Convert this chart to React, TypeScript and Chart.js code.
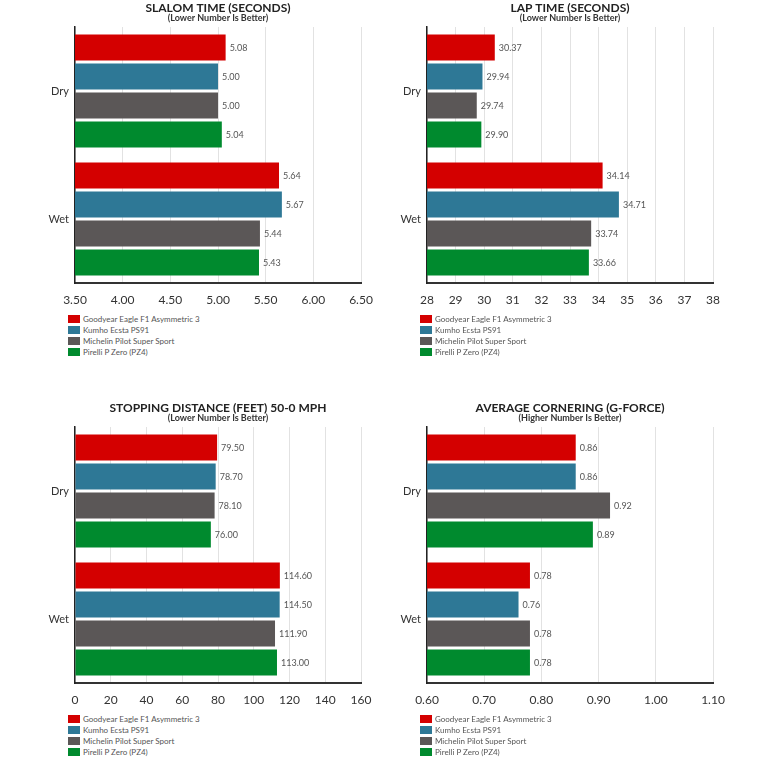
import React, { useEffect, useRef } from 'react';
import { Chart, registerables } from 'chart.js';

Chart.register(...registerables);

const categories = ['Dry', 'Wet'];
const tireNames = [
  'Goodyear Eagle F1 Asymmetric 3',
  'Kumho Ecsta PS91',
  'Michelin Pilot Super Sport',
  'Pirelli P Zero (PZ4)',
];
const tireColors = ['#D40000', '#2E7896', '#5B5757', '#008A2E'];

// values per tire in order: Goodyear, Kumho, Michelin, Pirelli
const slalomDry = [5.08, 5.0, 5.0, 5.04];
const slalomWet = [5.64, 5.67, 5.44, 5.43];
const lapDry = [30.37, 29.94, 29.74, 29.9];
const lapWet = [34.14, 34.71, 33.74, 33.66];
const stopDry = [79.5, 78.7, 78.1, 76.0];
const stopWet = [114.6, 114.5, 111.9, 113.0];
const cornerDry = [0.86, 0.86, 0.92, 0.89];
const cornerWet = [0.78, 0.76, 0.78, 0.78];

// axis ranges: [min, max, step, decimals]
const slalomAxis = [3.5, 6.5, 0.5, 2];
const lapAxis = [28, 38, 1, 0];
const stopAxis = [0, 160, 20, 0];
const cornerAxis = [0.6, 1.1, 0.1, 2];

const FONT = 'Lato, "Open Sans", sans-serif';

const valueLabels = {
  id: 'valueLabels',
  afterDatasetsDraw(chart: any) {
    const ctx = chart.ctx;
    ctx.save();
    ctx.font = `9px ${FONT}`;
    ctx.fillStyle = '#555';
    ctx.textBaseline = 'middle';
    ctx.textAlign = 'left';
    chart.data.datasets.forEach((ds: any, i: number) => {
      const meta = chart.getDatasetMeta(i);
      meta.data.forEach((bar: any, j: number) => {
        const v = ds.data[j];
        ctx.fillText(Number(v).toFixed(2), bar.x + 4, bar.y + 0.5);
      });
    });
    ctx.restore();
  },
};

type PanelProps = {
  left: number;
  top: number;
  title: string;
  subtitle: string;
  dry: number[];
  wet: number[];
  axis: number[];
};

function Panel({ left, top, title, subtitle, dry, wet, axis }: PanelProps) {
  const ref = useRef<HTMLCanvasElement | null>(null);
  useEffect(() => {
    if (!ref.current) return;
    const [min, max, step, dec] = axis;
    const chart = new Chart(ref.current, {
      type: 'bar',
      data: {
        labels: categories,
        datasets: tireNames.map((name, i) => ({
          label: name,
          data: [dry[i], wet[i]],
          backgroundColor: tireColors[i],
          borderWidth: 0,
          categoryPercentage: 0.906,
          barPercentage: 0.9,
        })),
      },
      options: {
        indexAxis: 'y',
        animation: false,
        responsive: false,
        devicePixelRatio: 1,
        layout: { padding: { left: 0, right: 24, top: 0, bottom: 0 } },
        plugins: {
          legend: { display: false },
          tooltip: { enabled: false },
          title: {
            display: true,
            text: title,
            fullSize: false,
            color: '#222',
            font: { family: FONT, size: 12, weight: 'bold', lineHeight: 1.0 },
            padding: { top: 2, bottom: 0 },
          },
          subtitle: {
            display: true,
            text: subtitle,
            fullSize: false,
            color: '#333',
            font: { family: FONT, size: 9, weight: 'bold', lineHeight: 1.0 },
            padding: { top: 0, bottom: 4 },
          },
        },
        scales: {
          x: {
            min,
            max,
            ticks: {
              stepSize: step,
              callback: (v: any) => Number(v).toFixed(dec),
              color: '#333',
              font: { family: FONT, size: 12 },
              padding: 10,
            },
            grid: { color: '#e2e2e2', drawTicks: false, lineWidth: 1 },
            border: { display: true, color: '#333', width: 2 },
            afterFit: (s: any) => {
              s.height = 27;
            },
          },
          y: {
            ticks: { color: '#333', font: { family: FONT, size: 11 }, padding: 6 },
            grid: { display: false, drawTicks: false },
            border: { display: true, color: '#222', width: 1.5 },
            afterFit: (s: any) => {
              s.width = 75;
            },
          },
        },
      } as any,
      plugins: [valueLabels],
    });
    return () => chart.destroy();
  }, []);

  return (
    <div style={{ position: 'absolute', left, top, width: 385, height: 360 }}>
      <canvas ref={ref} width={385} height={310} style={{ position: 'absolute', left: 0, top: 0 }} />
      <div style={{ position: 'absolute', left: 68, top: 313, fontFamily: FONT, fontSize: 8, color: '#555' }}>
        {tireNames.map((n, i) => (
          <div key={n} style={{ display: 'flex', alignItems: 'center', height: 11, whiteSpace: 'nowrap' }}>
            <span style={{ display: 'inline-block', width: 12, height: 8, background: tireColors[i], marginRight: 3 }} />
            <span>{n}</span>
          </div>
        ))}
      </div>
    </div>
  );
}

export default function App() {
  return (
    <div style={{ position: 'absolute', left: 0, top: 0, width: 777, height: 768, background: '#fff', overflow: 'hidden' }}>
      <Panel left={0} top={0} title="SLALOM TIME (SECONDS)" subtitle="(Lower Number Is Better)" dry={slalomDry} wet={slalomWet} axis={slalomAxis} />
      <Panel left={352} top={0} title="LAP TIME (SECONDS)" subtitle="(Lower Number Is Better)" dry={lapDry} wet={lapWet} axis={lapAxis} />
      <Panel left={0} top={400} title="STOPPING DISTANCE (FEET) 50-0 MPH" subtitle="(Lower Number Is Better)" dry={stopDry} wet={stopWet} axis={stopAxis} />
      <Panel left={352} top={400} title="AVERAGE CORNERING (G-FORCE)" subtitle="(Higher Number Is Better)" dry={cornerDry} wet={cornerWet} axis={cornerAxis} />
    </div>
  );
}
